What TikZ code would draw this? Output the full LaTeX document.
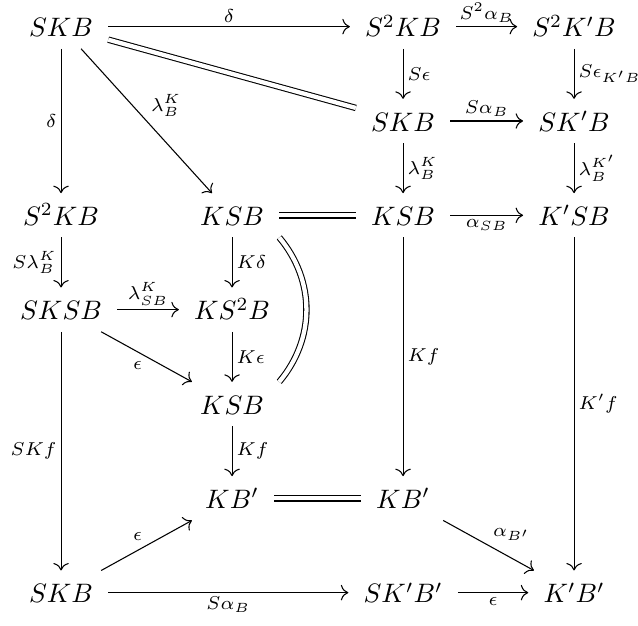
\documentclass[tikz,border=0pt]{standalone}
\usepackage{amsmath, amssymb}
\usepackage{tikz}
\usetikzlibrary{arrows.meta}

\begin{document}
\begin{tikzpicture}[
  x=64.1pt, y=35.36pt,
  obj/.style={anchor=base, inner xsep=5.5pt, inner ysep=2.5pt,
              text height=2.2ex, text depth=0.4ex},
  arr/.style={-{Computer Modern Rightarrow[length=2.8pt, width=5.8pt]}},
  eq/.style={double, double distance=1.6pt},
  lbl/.style={font=\scriptsize, inner sep=1.5pt}
]
  \useasboundingbox (-0.357,0.392) rectangle (3.374,-6.235);

  % objects, one row at a time
  \node[obj] (skb)   at (0,0)  {$SKB$};
  \node[obj] (sskb)  at (2,0)  {$S^2KB$};
  \node[obj] (sskpb) at (3,0)  {$S^2K'B$};
  \node[obj] (skbm)  at (2,-1) {$SKB$};
  \node[obj] (skpb)  at (3,-1) {$SK'B$};
  \node[obj] (sskl)  at (0,-2) {$S^2KB$};
  \node[obj] (ksb)   at (1,-2) {$KSB$};
  \node[obj] (ksbm)  at (2,-2) {$KSB$};
  \node[obj] (kpsb)  at (3,-2) {$K'SB$};
  \node[obj] (sksb)  at (0,-3) {$SKSB$};
  \node[obj] (kssb)  at (1,-3) {$KS^2B$};
  \node[obj] (ksbl)  at (1,-4) {$KSB$};
  \node[obj] (kbp)   at (1,-5) {$KB'$};
  \node[obj] (kbpm)  at (2,-5) {$KB'$};
  \node[obj] (skbb)  at (0,-6) {$SKB$};
  \node[obj] (skpbp) at (2,-6) {$SK'B'$};
  \node[obj] (kpbp)  at (3,-6) {$K'B'$};

  % top part
  \draw[arr] (skb) -- node[lbl, above] {$\delta$} (sskb);
  \draw[arr] (sskb) -- node[lbl, above] {$S^2\alpha_B$} (sskpb);
  \draw[arr] (sskb) -- node[lbl, right] {$S\epsilon$} (skbm);
  \draw[arr] (sskpb) -- node[lbl, right] {$S\epsilon_{K'B}$} (skpb);
  \draw[eq] (skb) -- (skbm);
  \draw[arr] (skbm) -- node[lbl, above] {$S\alpha_B$} (skpb);
  \draw[arr] (skbm) -- node[lbl, right] {$\lambda^K_B$} (ksbm);
  \draw[arr] (skpb) -- node[lbl, right] {$\lambda^{K'}_B$} (kpsb);
  \draw[arr] (skb) -- node[lbl, left] {$\delta$} (sskl);
  \draw[arr] (skb) -- node[lbl, above right] {$\lambda^K_B$} (ksb);
  \draw[eq] (ksb) -- (ksbm);
  \draw[arr] (ksbm) -- node[lbl, below] {$\alpha_{SB}$} (kpsb);

  % middle part
  \draw[arr] (sskl) -- node[lbl, left] {$S\lambda^K_B$} (sksb);
  \draw[arr] (sksb) -- node[lbl, above] {$\lambda^K_{SB}$} (kssb);
  \draw[arr] (ksb) -- node[lbl, right] {$K\delta$} (kssb);
  \draw[arr] (kssb) -- node[lbl, right] {$K\epsilon$} (ksbl);
  \draw[eq] (ksb.south east) to[out=-50, in=50] (ksbl.north east);
  \draw[arr] (sksb) -- node[lbl, below left] {$\epsilon$} (ksbl);

  % bottom part
  \draw[arr] (ksbl) -- node[lbl, right] {$Kf$} (kbp);
  \draw[arr] (ksbm) -- node[lbl, right] {$Kf$} (kbpm);
  \draw[arr] (kpsb) -- node[lbl, right] {$K'f$} (kpbp);
  \draw[arr] (sksb) -- node[lbl, left] {$SKf$} (skbb);
  \draw[arr] (skbb) -- node[lbl, above left] {$\epsilon$} (kbp);
  \draw[eq] (kbp) -- (kbpm);
  \draw[arr] (kbpm) -- node[lbl, above right] {$\alpha_{B'}$} (kpbp);
  \draw[arr] (skbb) -- node[lbl, below] {$S\alpha_B$} (skpbp);
  \draw[arr] (skpbp) -- node[lbl, below] {$\epsilon$} (kpbp);
\end{tikzpicture}
\end{document}
